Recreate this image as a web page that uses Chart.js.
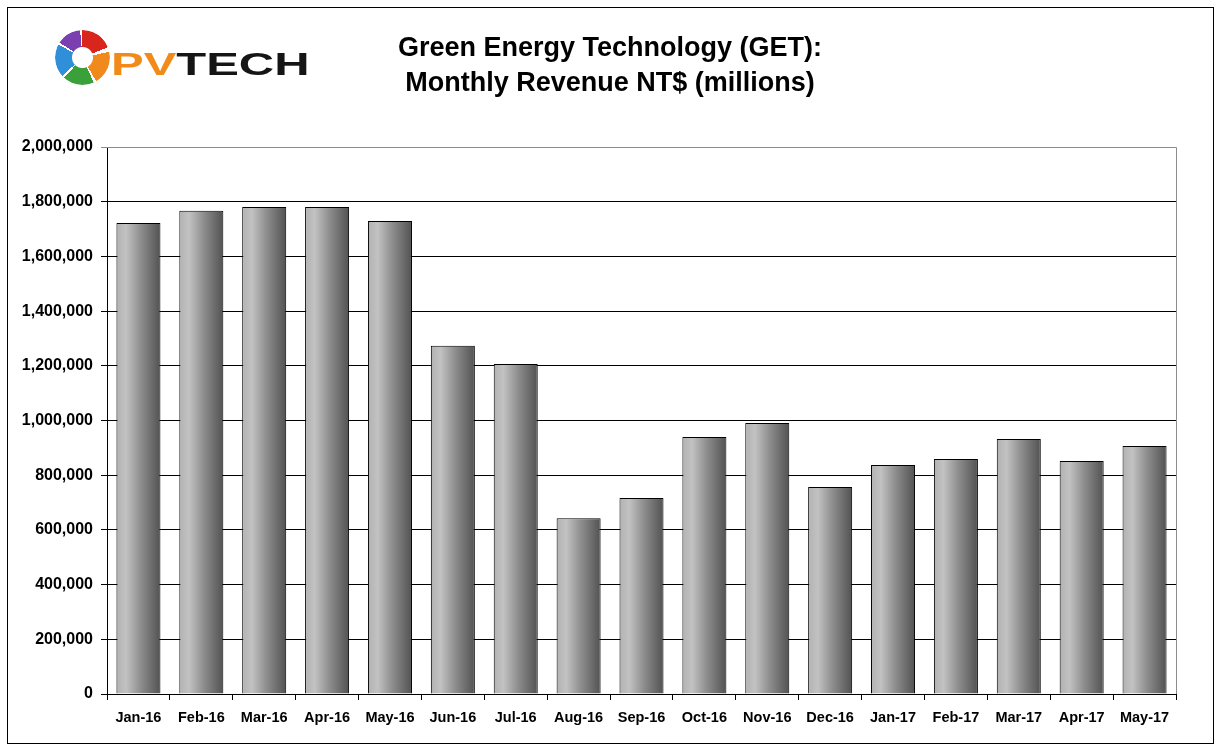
<!DOCTYPE html>
<html>
<head>
<meta charset="utf-8">
<script src="https://cdn.jsdelivr.net/npm/chart.js@4.4.1/dist/chart.umd.min.js"></script>
<style>
  body { margin: 0; background: #fff; }
  #wrap { position: relative; width: 1221px; height: 750px; }
  #frame { position: absolute; left: 7px; top: 7px; width: 1205px; height: 735px; border: 1px solid #000; pointer-events: none; }
  #title { position: absolute; left: 310px; width: 600px; top: 30px; text-align: center; color: #000;
    font: bold 27px "Liberation Sans", Arial, sans-serif; line-height: 35px; white-space: nowrap; }
  #ring { position: absolute; left: 55px; top: 30px; width: 55px; height: 55px; border-radius: 50%;
    background: conic-gradient(#d8261c 0deg 68deg, #fff 68deg 78deg, #f08a1c 78deg 150deg, #fff 150deg 156deg, #3aa13a 156deg 222deg, #fff 222deg 228deg, #2f8fd8 228deg 298deg, #fff 298deg 303deg, #7b3fb0 303deg 355deg, #fff 355deg 360deg);
    -webkit-mask: radial-gradient(circle, transparent 10px, #000 11px);
    mask: radial-gradient(circle, transparent 10px, #000 11px); }
  #brand { position: absolute; left: 111px; top: 48px; font: bold 32px "Liberation Sans", Arial, sans-serif; line-height: 1;
    transform: scaleX(1.53); transform-origin: left top; white-space: nowrap; }
  #brand .pv { color: #f28a1a; }
  #brand .tech { color: #151515; }
</style>
</head>
<body>
<div id="wrap">
  <canvas id="chart" width="1221" height="750"></canvas>
  <div id="ring"></div>
  <div id="brand"><span class="pv">PV</span><span class="tech">TECH</span></div>
  <div id="title"></div>
  <div id="frame"></div>
</div>
<script>
const titleLines = ['Green Energy Technology (GET):', 'Monthly Revenue NT$ (millions)'];

const months = ['Jan-16', 'Feb-16', 'Mar-16', 'Apr-16', 'May-16', 'Jun-16', 'Jul-16', 'Aug-16', 'Sep-16',
  'Oct-16', 'Nov-16', 'Dec-16', 'Jan-17', 'Feb-17', 'Mar-17', 'Apr-17', 'May-17'];

const revenue = [1722000, 1767000, 1781000, 1781000, 1729000, 1273000, 1207000, 643000, 717000,
  940000, 991000, 757000, 837000, 859000, 932000, 852000, 907000];

const yMin = 0;
const yMax = 2000000;
const yStep = 200000;

const barPct = 0.7;

// title goes in as two lines of page text
const titleEl = document.getElementById('title');
titleLines.forEach((t) => {
  const d = document.createElement('div');
  d.textContent = t;
  titleEl.appendChild(d);
});

// shaded bar: light on the left, dark on the right
function barFill(c) {
  const chart = c.chart;
  const xs = chart.scales.x;
  if (!chart.chartArea || !xs || c.type !== 'data') return '#999';
  const cx = xs.getPixelForValue(c.dataIndex);
  const half = (xs.width / months.length) * barPct / 2;
  const g = chart.ctx.createLinearGradient(cx - half, 0, cx + half, 0);
  g.addColorStop(0, '#b2b2b2');
  g.addColorStop(0.22, '#c2c2c2');
  g.addColorStop(0.55, '#8e8e8e');
  g.addColorStop(1, '#525252');
  return g;
}

// grey border on the top and right of the plot area
const plotBorder = {
  id: 'plotBorder',
  beforeDatasetsDraw(chart) {
    const a = chart.chartArea;
    const ctx = chart.ctx;
    ctx.save();
    ctx.strokeStyle = '#8c8c8c';
    ctx.lineWidth = 1;
    ctx.beginPath();
    ctx.moveTo(a.left, a.top + 0.5);
    ctx.lineTo(a.right + 0.5, a.top + 0.5);
    ctx.lineTo(a.right + 0.5, a.bottom);
    ctx.stroke();
    ctx.restore();
  }
};

new Chart(document.getElementById('chart'), {
  type: 'bar',
  data: {
    labels: months,
    datasets: [{
      data: revenue,
      backgroundColor: barFill,
      borderColor: '#000',
      borderWidth: 1,
      barPercentage: barPct,
      categoryPercentage: 1
    }]
  },
  options: {
    responsive: false,
    animation: false,
    layout: { padding: { left: 10, right: 45, top: 147, bottom: 20 } },
    plugins: {
      legend: { display: false },
      tooltip: { enabled: false },
      title: { display: false }
    },
    scales: {
      x: {
        grid: { drawOnChartArea: false, drawTicks: true, tickLength: 6, color: '#000', offset: true },
        border: { color: '#000', width: 1 },
        ticks: {
          color: '#000', maxRotation: 0, autoSkip: false, padding: 9,
          font: { family: 'Liberation Sans, Arial, sans-serif', size: 14.5, weight: 'bold' }
        },
        afterFit: (s) => { s.height = 36; }
      },
      y: {
        min: yMin,
        max: yMax,
        grid: {
          color: (c) => (c.tick && c.tick.value === yMax ? '#8c8c8c' : '#000'),
          tickLength: 6,
          drawTicks: true
        },
        border: { color: '#000', width: 1 },
        ticks: {
          stepSize: yStep, color: '#000', padding: 8,
          font: { family: 'Liberation Sans, Arial, sans-serif', size: 16, weight: 'bold' },
          callback: (v) => Number(v).toLocaleString('en-US')
        },
        afterFit: (s) => { s.width = 97; }
      }
    }
  },
  plugins: [plotBorder]
});
</script>
</body>
</html>
